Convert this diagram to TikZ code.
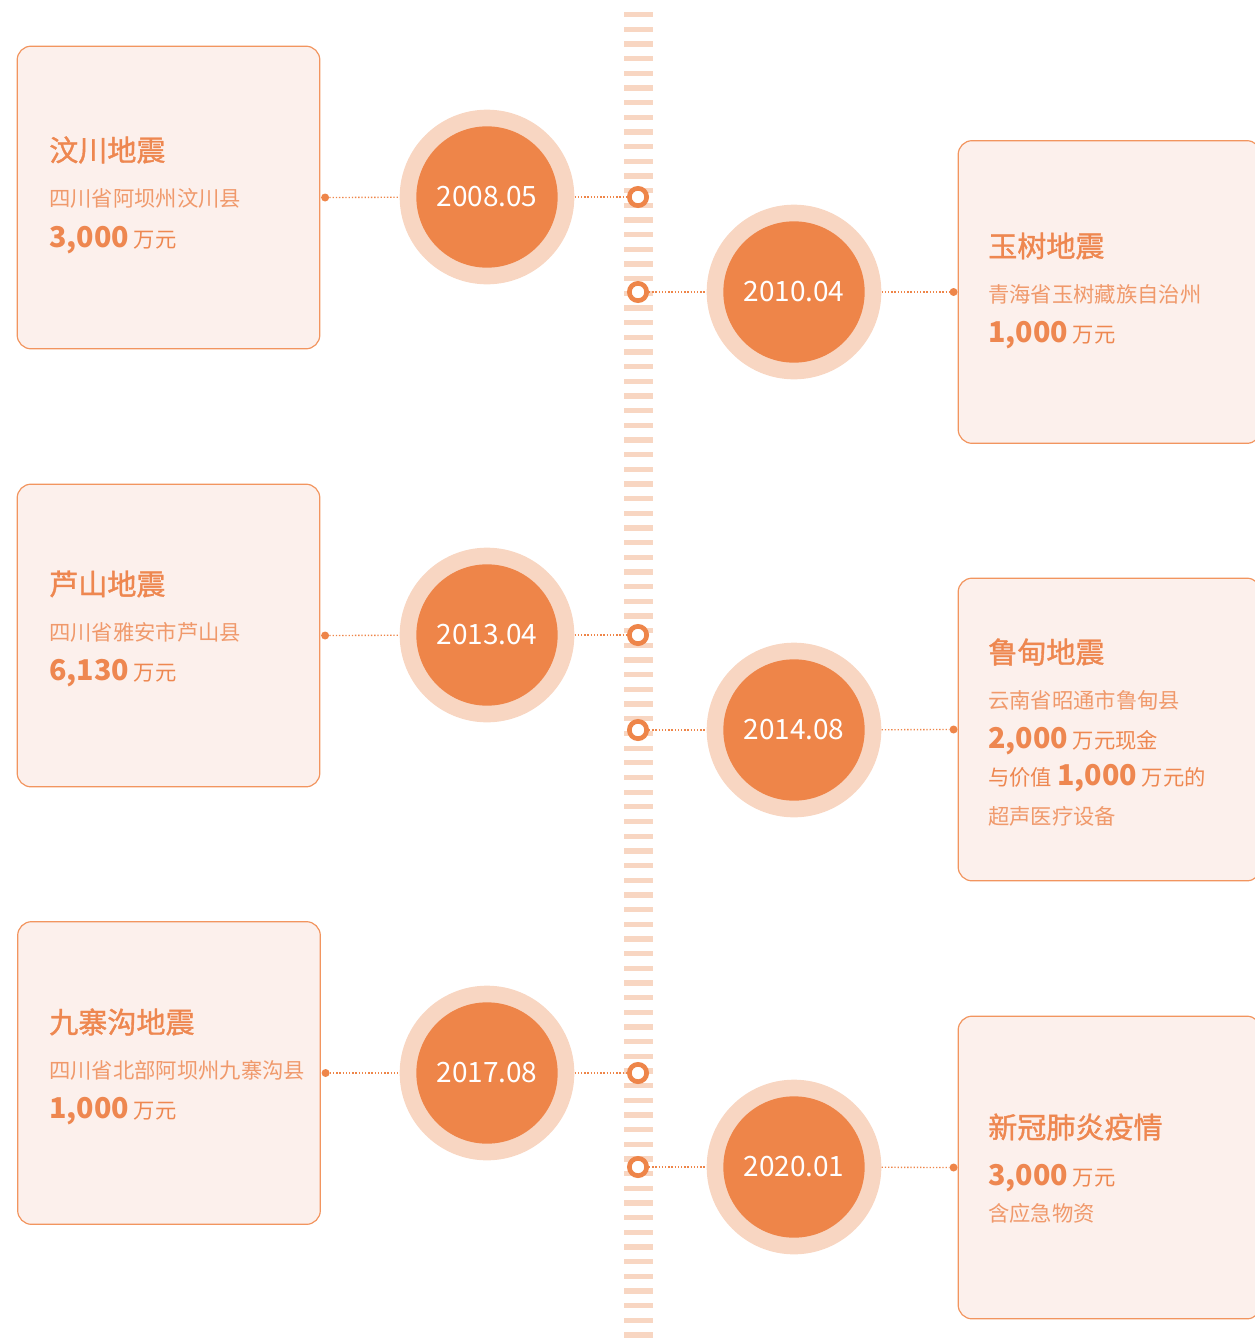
\documentclass[tikz,border=0pt]{standalone}
\usepackage{fontspec}
\setmainfont{Noto Sans CJK SC}
\newfontfamily\headfont{Noto Sans CJK SC}[FakeBold=1.2]
\definecolor{orangeMain}{HTML}{EE8549}
\definecolor{orangeLight}{HTML}{F8D6C2}
\definecolor{boxFill}{HTML}{FCF0EC}
\definecolor{boxLine}{HTML}{F2955F}
\definecolor{textOrange}{HTML}{EE8750}
\definecolor{subOrange}{HTML}{F0996B}
\newcommand{\sumnum}[1]{{\fontsize{21.5}{26}\selectfont\bfseries #1}}

\begin{document}
\begin{tikzpicture}[x=0.75pt,y=-0.75pt,
    card/.style={draw=boxLine, line width=0.9pt, fill=boxFill, rounded corners=10.5pt,
        minimum width=227pt, minimum height=227pt, inner sep=0pt},
    ring/.style={circle, fill=orangeLight, minimum size=131pt, inner sep=0pt},
    yearball/.style={circle, fill=orangeMain, minimum size=106pt, inner sep=0pt,
        text=white, font=\fontsize{21}{25}\selectfont},
    marker/.style={circle, draw=orangeMain, line width=3.5pt, fill=white, minimum size=13pt, inner sep=0pt},
    knob/.style={circle, fill=orangeMain, minimum size=6pt, inner sep=0pt},
    dotline/.style={orangeMain, line width=1pt, dash pattern=on 1pt off 1.4pt},
    title/.style={anchor=west, inner sep=0pt, text=textOrange, font=\fontsize{21.8}{25}\headfont},
    place/.style={anchor=west, inner sep=0pt, text=subOrange, font=\fontsize{16}{19}\selectfont},
    money/.style={anchor=west, inner sep=0pt, text=textOrange, font=\fontsize{16}{19}\selectfont},
]
\useasboundingbox (0,0) rectangle (1255,1342);

% timeline strip
\foreach \i in {0,...,90}
    \fill[orangeLight] (624,{12+\i*14.67}) rectangle (653,{17.3+\i*14.67});

% 2008.05
\node[card] (b1) at (168.5,197.5) {};
\node[title] at (49,150) {汶川地震};
\node[place] at (49,198) {四川省阿坝州汶川县};
\node[money] at (49,240) {\sumnum{3,000} 万元};
\node[knob] (k1) at ([xshift=3.5pt]b1.east) {};
\node[ring] (r1) at (487,197) {};
\node[yearball] at (r1) {2008.05};
\node[marker] (m1) at (638,197) {};
\draw[dotline] (k1) -- (r1);
\draw[dotline] (r1) -- (m1);

% 2010.04
\node[card] (b2) at (1109.5,292) {};
\node[title] at (988,246) {玉树地震};
\node[place] at (988,294) {青海省玉树藏族自治州};
\node[money] at (988,335) {\sumnum{1,000} 万元};
\node[knob] (k2) at ([xshift=-3pt]b2.west) {};
\node[ring] (r2) at (794,292) {};
\node[yearball] at (r2) {2010.04};
\node[marker] (m2) at (638,292) {};
\draw[dotline] (m2) -- (r2);
\draw[dotline] (r2) -- (k2);

% 2013.04
\node[card] (b3) at (168.5,635.5) {};
\node[title] at (49,584) {芦山地震};
\node[place] at (49,632) {四川省雅安市芦山县};
\node[money] at (49,673) {\sumnum{6,130} 万元};
\node[knob] (k3) at ([xshift=3.5pt]b3.east) {};
\node[ring] (r3) at (487,635) {};
\node[yearball] at (r3) {2013.04};
\node[marker] (m3) at (638,635) {};
\draw[dotline] (k3) -- (r3);
\draw[dotline] (r3) -- (m3);

% 2014.08
\node[card] (b4) at (1109.5,729.5) {};
\node[title] at (988,652) {鲁甸地震};
\node[place] at (988,700) {云南省昭通市鲁甸县};
\node[money] at (988,741) {\sumnum{2,000} 万元现金};
\node[money] at (988,778) {与价值 \sumnum{1,000} 万元的};
\node[place] at (988,816) {超声医疗设备};
\node[knob] (k4) at ([xshift=-3pt]b4.west) {};
\node[ring] (r4) at (794,730) {};
\node[yearball] at (r4) {2014.08};
\node[marker] (m4) at (638,730) {};
\draw[dotline] (m4) -- (r4);
\draw[dotline] (r4) -- (k4);

% 2017.08
\node[card] (b5) at (169,1073) {};
\node[title] at (49,1022) {九寨沟地震};
\node[place] at (49,1070) {四川省北部阿坝州九寨沟县};
\node[money] at (49,1111) {\sumnum{1,000} 万元};
\node[knob] (k5) at ([xshift=3.5pt]b5.east) {};
\node[ring] (r5) at (487,1073) {};
\node[yearball] at (r5) {2017.08};
\node[marker] (m5) at (638,1073) {};
\draw[dotline] (k5) -- (r5);
\draw[dotline] (r5) -- (m5);

% 2020.01
\node[card] (b6) at (1109.5,1167.5) {};
\node[title] at (988,1127) {新冠肺炎疫情};
\node[money] at (988,1178) {\sumnum{3,000} 万元};
\node[place] at (988,1213) {含应急物资};
\node[knob] (k6) at ([xshift=-3pt]b6.west) {};
\node[ring] (r6) at (794,1167) {};
\node[yearball] at (r6) {2020.01};
\node[marker] (m6) at (638,1167) {};
\draw[dotline] (m6) -- (r6);
\draw[dotline] (r6) -- (k6);
\end{tikzpicture}
\end{document}
